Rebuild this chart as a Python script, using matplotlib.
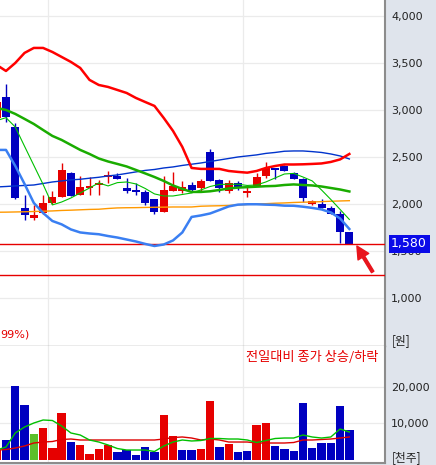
import numpy as np
import matplotlib
matplotlib.use('Agg')
import matplotlib.pyplot as plt
from matplotlib.ticker import FuncFormatter
import matplotlib.transforms as mtransforms

# ---------------- data ----------------
opens  = [2920, 3145, 2826, 1964, 1858, 1904, 2011, 2074, 2330, 2099,
          2178, 2205, 2287, 2301, 2170, 2152, 2134, 2056, 1921, 2145,
          2145, 2205, 2177, 2553, 2258, 2145, 2230, 2123, 2198, 2304,
          2390, 2408, 2330, 2269, 2000, 2003, 1957, 1897, 1710]
highs  = [3120, 3280, 2868, 2099, 1993, 2099, 2141, 2443, 2347, 2301,
          2290, 2258, 2354, 2336, 2277, 2223, 2152, 2060, 2301, 2347,
          2248, 2240, 2270, 2588, 2269, 2258, 2250, 2205, 2330, 2447,
          2390, 2418, 2340, 2280, 2045, 2053, 1982, 1932, 1710]
lows   = [2900, 2879, 2060, 1833, 1835, 1900, 2005, 2074, 2092, 2095,
          2099, 2099, 2230, 2266, 2117, 2099, 1993, 1897, 1921, 2140,
          2123, 2145, 2145, 2251, 2134, 2123, 2150, 2081, 2190, 2277,
          2269, 2354, 2269, 2028, 1990, 1964, 1897, 1585, 1580]
closes = [3090, 2930, 2064, 1890, 1890, 2017, 2081, 2365, 2092, 2187,
          2195, 2230, 2312, 2266, 2145, 2131, 2011, 1921, 2152, 2195,
          2187, 2152, 2248, 2251, 2170, 2223, 2177, 2141, 2294, 2383,
          2365, 2354, 2269, 2064, 2035, 1964, 1897, 1709, 1580]

volume = [2700, 5450, 20200, 15000, 7100, 8700, 3300, 12800, 4900, 4100,
          1600, 3000, 4100, 2200, 2700, 1400, 3500, 2200, 12300, 6500,
          2700, 2700, 3000, 16100, 3500, 4400, 2200, 2500, 9500, 10100,
          3800, 3000, 2500, 15500, 3300, 4600, 4600, 14700, 8200]
vol_dir = ['u', 'd', 'd', 'd', 'e', 'u', 'u', 'u', 'd', 'u',
           'u', 'u', 'u', 'd', 'd', 'd', 'd', 'd', 'u', 'u',
           'd', 'd', 'u', 'u', 'd', 'u', 'd', 'd', 'u', 'u',
           'd', 'd', 'd', 'd', 'd', 'd', 'd', 'd', 'd']

bb_upper = [3482, 3418, 3503, 3610, 3663, 3663, 3620, 3567, 3514, 3450,
            3323, 3269, 3248, 3216, 3184, 3131, 3088, 3046, 2918, 2780,
            2610, 2386, 2376, 2376, 2376, 2354, 2344, 2336, 2354, 2386,
            2407, 2423, 2423, 2425, 2429, 2434, 2450, 2477, 2535]
bb_mid   = [3025, 3003, 2961, 2908, 2854, 2790, 2727, 2684, 2631, 2578,
            2535, 2487, 2455, 2429, 2402, 2365, 2328, 2290, 2248, 2200,
            2163, 2131, 2131, 2138, 2152, 2168, 2177, 2182, 2187, 2192,
            2195, 2205, 2211, 2205, 2200, 2189, 2173, 2157, 2136]
bb_lower = [2578, 2578, 2408, 2216, 2014, 1907, 1822, 1786, 1732, 1700,
            1689, 1681, 1662, 1646, 1625, 1604, 1578, 1556, 1572, 1615,
            1700, 1865, 1881, 1902, 1939, 1977, 1996, 2000, 2000, 1996,
            1993, 1985, 1984, 1974, 1961, 1945, 1913, 1849, 1737]
ma5      = [2890, 2921, 2822, 2617, 2414, 2211, 1993, 2024, 2067, 2120,
            2173, 2227, 2195, 2230, 2237, 2216, 2168, 2110, 2088, 2088,
            2104, 2120, 2152, 2189, 2211, 2213, 2213, 2200, 2205, 2237,
            2280, 2322, 2328, 2290, 2248, 2152, 2051, 1945, 1838]
ma60     = [2184, 2189, 2195, 2200, 2205, 2221, 2237, 2248, 2259, 2266,
            2277, 2287, 2301, 2312, 2328, 2344, 2360, 2370, 2386, 2397,
            2413, 2426, 2439, 2455, 2471, 2487, 2503, 2514, 2525, 2541,
            2551, 2564, 2567, 2567, 2560, 2551, 2535, 2514, 2482]
ma120    = [1915, 1916, 1918, 1920, 1923, 1926, 1929, 1934, 1937, 1941,
            1945, 1947, 1955, 1961, 1963, 1964, 1966, 1968, 1969, 1971,
            1971, 1971, 1979, 1982, 1984, 1987, 1993, 1998, 2003, 2006,
            2011, 2014, 2019, 2022, 2024, 2028, 2032, 2035, 2038]

vol_ma5  = [2720, 3540, 7360, 8990, 10080, 10900, 10760, 9260, 7360, 6810,
            5450, 4900, 4090, 3130, 2720, 2720, 2720, 2320, 3810, 4900,
            5450, 5180, 5310, 5860, 5860, 5720, 5720, 5450, 4770, 5310,
            5860, 5990, 5990, 6810, 6270, 5990, 6270, 8450, 7630]
vol_ma20 = [2700, 2860, 3270, 3810, 4630, 4900, 5040, 5590, 5720, 5450,
            5450, 5450, 5450, 5450, 5450, 5450, 5450, 5450, 5720, 6130,
            6270, 5990, 5450, 5720, 5450, 4900, 4900, 4900, 4630, 4630,
            4630, 4630, 4770, 5450, 5450, 5590, 5720, 5990, 6270]

price_ticks = [1000, 1500, 2000, 2500, 3000, 3500, 4000]
vol_ticks = [10000, 20000]
last_price = 1580
support_price = 1250
month_breaks = [5.5, 26.5]

# ---------------- styling ----------------
RED = '#e60000'
BLUE = '#0000c0'
GREEN_VOL = '#5cbf2a'
PANEL = '#dfe4ec'
GRID = '#ebebeb'
SPINE = '#8c8c8c'
KFONT = ['Noto Sans CJK KR', 'DejaVu Sans']

W, H = 436, 465
fig = plt.figure(figsize=(W / 100, H / 100), dpi=100, facecolor=PANEL)
plot_w = 385 / W
ax = fig.add_axes([0, (H - 346) / H, plot_w, 346 / H])
axv = fig.add_axes([0, (H - 463) / H, plot_w, (463 - 346) / H])

x = np.arange(len(closes))
xlim = (0.356, 41.84)

# ---------------- price panel ----------------
ax.set_facecolor('white')
ax.set_xlim(*xlim)
ax.set_ylim(492, 4173)
for t in price_ticks:
    ax.axhline(t, color=GRID, lw=0.9, zorder=0)
for mb in month_breaks:
    ax.axvline(mb, color=GRID, lw=0.9, zorder=0)

cols = [RED if c >= o else BLUE for o, c in zip(opens, closes)]
ax.vlines(x, lows, highs, colors=cols, lw=1.0, zorder=2)
bottoms = [min(o, c) for o, c in zip(opens, closes)]
heights = [max(abs(c - o), 12) for o, c in zip(opens, closes)]
ax.bar(x, heights, bottom=bottoms, width=0.86, color=cols, edgecolor='none', zorder=3)

ax.plot(x, ma120, color='#ff9900', lw=1.0, zorder=4)
ax.plot(x, ma60, color='#0033cc', lw=1.0, zorder=4)
ax.plot(x, ma5, color='#00c000', lw=0.8, zorder=5)
ax.plot(x, bb_mid, color='#1aac00', lw=1.8, zorder=5)
ax.plot(x, bb_lower, color='#3a7ff2', lw=1.8, zorder=5)
ax.plot(x, bb_upper, color='#ff0000', lw=1.8, zorder=5)

ax.axhline(last_price, color=RED, lw=1.0, zorder=4)
ax.axhline(support_price, color=RED, lw=1.0, zorder=4)

ax.yaxis.tick_right()
ax.set_yticks(price_ticks)
ax.yaxis.set_major_formatter(FuncFormatter(lambda v, p: f'{int(v):,}'))
ax.tick_params(axis='y', length=0, pad=4.5, labelsize=8, labelcolor='#222222')
ax.set_xticks([])
for s in ['top', 'left']:
    ax.spines[s].set_visible(False)
ax.spines['right'].set_color(SPINE)
ax.spines['right'].set_linewidth(1.5)
ax.spines['bottom'].set_color('#9a9a9a')
ax.spines['bottom'].set_linewidth(1.0)

trans = mtransforms.blended_transform_factory(ax.transAxes, ax.transData)
ax.text(1.016, last_price, f'{last_price:,}', transform=trans, color='white',
        fontsize=9, va='center', ha='left', zorder=20, clip_on=False,
        bbox=dict(facecolor='#0a0ae8', edgecolor='none', pad=1.8))

ax.annotate('', xy=(0.927, 0.289), xytext=(0.968, 0.214), xycoords='axes fraction',
            arrowprops=dict(color='#e8141c', width=2.0, headwidth=9, headlength=9,
                            shrink=0), zorder=20)

ax.text(0.0, 0.032, '99%)', transform=ax.transAxes, color=RED, fontsize=8,
        va='center', ha='left')
ax.text(1.018, 0.017, '[원]', transform=ax.transAxes, color='#222222', fontsize=8.5,
        va='center', ha='left', family=KFONT, clip_on=False)

# ---------------- volume panel ----------------
axv.set_facecolor('white')
axv.set_xlim(*xlim)
axv.set_ylim(-817, 31063)
for t in vol_ticks:
    axv.axhline(t, color=GRID, lw=0.9, zorder=0)
for mb in month_breaks:
    axv.axvline(mb, color=GRID, lw=0.9, zorder=0)
vcmap = {'u': RED, 'd': BLUE, 'e': GREEN_VOL}
axv.bar(x, volume, width=0.9, color=[vcmap[d] for d in vol_dir], edgecolor='none', zorder=2)
axv.plot(x, vol_ma20, color='#dd0000', lw=1.0, zorder=4)
axv.plot(x, vol_ma5, color='#00c000', lw=1.0, zorder=4)

axv.yaxis.tick_right()
axv.set_yticks(vol_ticks)
axv.yaxis.set_major_formatter(FuncFormatter(lambda v, p: f'{int(v):,}'))
axv.tick_params(axis='y', length=0, pad=4.5, labelsize=8, labelcolor='#222222')
axv.set_xticks([])
for s in ['top', 'left']:
    axv.spines[s].set_visible(False)
axv.spines['right'].set_color(SPINE)
axv.spines['right'].set_linewidth(1.5)
axv.spines['bottom'].set_color('#8c8c8c')
axv.spines['bottom'].set_linewidth(1.5)

axv.text(0.982, 0.9, '전일대비 종가 상승/하락', transform=axv.transAxes, color=RED,
         fontsize=9.5, va='center', ha='right', family=KFONT)
axv.text(1.018, 0.04, '[천주]', transform=axv.transAxes, color='#222222', fontsize=8.5,
         va='center', ha='left', family=KFONT, clip_on=False)

fig.savefig('out.png', dpi=100, facecolor=PANEL)
